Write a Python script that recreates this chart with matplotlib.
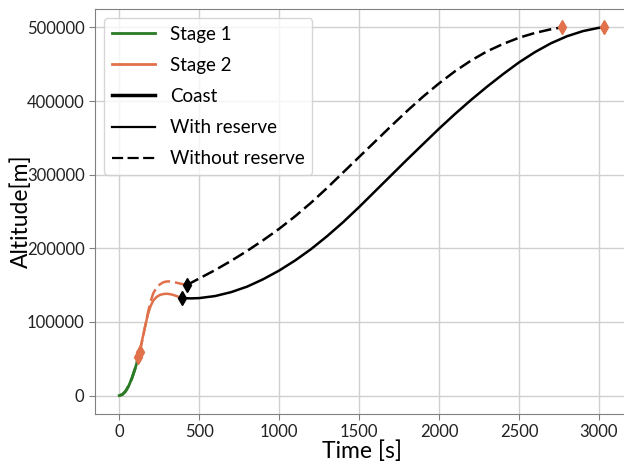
import matplotlib
matplotlib.use("Agg")
import matplotlib.pyplot as plt
from matplotlib.lines import Line2D

# ========================
# Data
# ========================
# Stage 1 - same ascent for both cases, the "without reserve" one burns a bit longer
stage1_t = [0, 20, 40, 60, 80, 100, 120]
stage1_alt = [0, 1500, 6000, 13500, 24000, 37000, 52000]
stage1_t_nr = [0, 20, 40, 60, 80, 100, 120, 128]
stage1_alt_nr = [0, 1500, 6000, 13500, 24000, 37000, 52000, 59000]

# Stage 2
stage2_t = [120, 135, 150, 165, 181, 197, 213, 233, 254, 275, 296, 317, 338, 364, 390]
stage2_alt = [52000, 67000, 82000, 97000, 111500, 122000, 129000, 133800, 136600,
              137900, 138300, 137800, 136700, 134700, 132400]
stage2_t_nr = [128, 145, 161, 172, 181, 197, 213, 233, 254, 275, 296, 317, 338, 358,
               379, 402, 425]
stage2_alt_nr = [59000, 76000, 93000, 104500, 114000, 128500, 139000, 146500, 151000,
                 153800, 155000, 155000, 154300, 153300, 152200, 151200, 150400]

# Coast
coast_t = [390, 450, 500, 600, 700, 800, 900, 1000, 1100, 1200, 1300, 1400, 1500, 1600,
           1700, 1800, 1900, 2000, 2100, 2200, 2300, 2400, 2500, 2600, 2700, 2800, 2900,
           3000, 3030]
coast_alt = [132400, 132000, 132400, 135200, 140500, 148000, 158000, 169800, 183500,
             199000, 216500, 235500, 256000, 277500, 299000, 320500, 341500, 362500,
             382500, 401500, 419500, 436500, 452500, 466500, 478500, 488000, 495000,
             499500, 500000]
coast_t_nr = [425, 500, 600, 700, 800, 900, 1000, 1100, 1200, 1300, 1400, 1500, 1600,
              1700, 1800, 1900, 2000, 2100, 2200, 2300, 2400, 2500, 2600, 2700, 2766]
coast_alt_nr = [150400, 159000, 170500, 183000, 196500, 211000, 226500, 243500, 262000,
                282000, 303000, 324000, 345000, 366000, 386500, 406000, 424000, 440500,
                455000, 467500, 477500, 486000, 492500, 497500, 500000]

GREEN = "#2a7a26"
ORANGE = "#e0714a"

plt.rcParams["font.family"] = ["Lato", "DejaVu Sans"]

fig = plt.figure(figsize=(6.24, 4.62), dpi=100)
ax = fig.add_axes([95 / 624, 48 / 462, 533 / 624, 405 / 462])

dash = (0, (5, 2))

# with reserve (solid)
ax.plot(stage1_t, stage1_alt, color=GREEN, lw=2)
ax.plot(stage2_t, stage2_alt, color=ORANGE, lw=1.8)
ax.plot(coast_t, coast_alt, color="black", lw=1.8)
# without reserve (dashed)
ax.plot(stage1_t_nr, stage1_alt_nr, color=GREEN, lw=2, ls=dash)
ax.plot(stage2_t_nr, stage2_alt_nr, color=ORANGE, lw=1.8, ls=dash)
ax.plot(coast_t_nr, coast_alt_nr, color="black", lw=1.8, ls=dash)

# event markers
ax.plot([stage1_t[-1], stage1_t_nr[-1]], [stage1_alt[-1], stage1_alt_nr[-1]],
        ls="none", marker="d", ms=7, color=ORANGE)
ax.plot([stage2_t[-1], stage2_t_nr[-1]], [stage2_alt[-1], stage2_alt_nr[-1]],
        ls="none", marker="d", ms=7, color="black")
ax.plot([coast_t[-1], coast_t_nr[-1]], [coast_alt[-1], coast_alt_nr[-1]],
        ls="none", marker="d", ms=7, color=ORANGE)

ax.set_xticks([0, 500, 1000, 1500, 2000, 2500, 3000])
ax.set_yticks([0, 100000, 200000, 300000, 400000, 500000])
ax.grid(True, color="#d0d0d0", lw=1)
ax.set_axisbelow(True)
for sp in ax.spines.values():
    sp.set_color("#808080")
ax.tick_params(colors="#808080", labelcolor="#222222", labelsize=12, length=4)

ax.set_xlabel("Time [s]", fontsize=16.5, labelpad=0)
ax.set_ylabel("Altitude[m]", fontsize=16.5)
ax.yaxis.set_label_coords(-0.118, 0.5)

handles = [
    Line2D([], [], color=GREEN, lw=2),
    Line2D([], [], color=ORANGE, lw=2),
    Line2D([], [], color="black", lw=2.5),
    Line2D([], [], color="black", lw=1.6),
    Line2D([], [], color="black", lw=1.6, ls=dash),
]
labels = ["Stage 1", "Stage 2", "Coast", "With reserve", "Without reserve"]
ax.legend(handles, labels, loc="upper left", fontsize=13.5, handlelength=2.3,
          labelspacing=0.75, borderaxespad=0.5, framealpha=0.8)

fig.savefig("out.png", dpi=100)
